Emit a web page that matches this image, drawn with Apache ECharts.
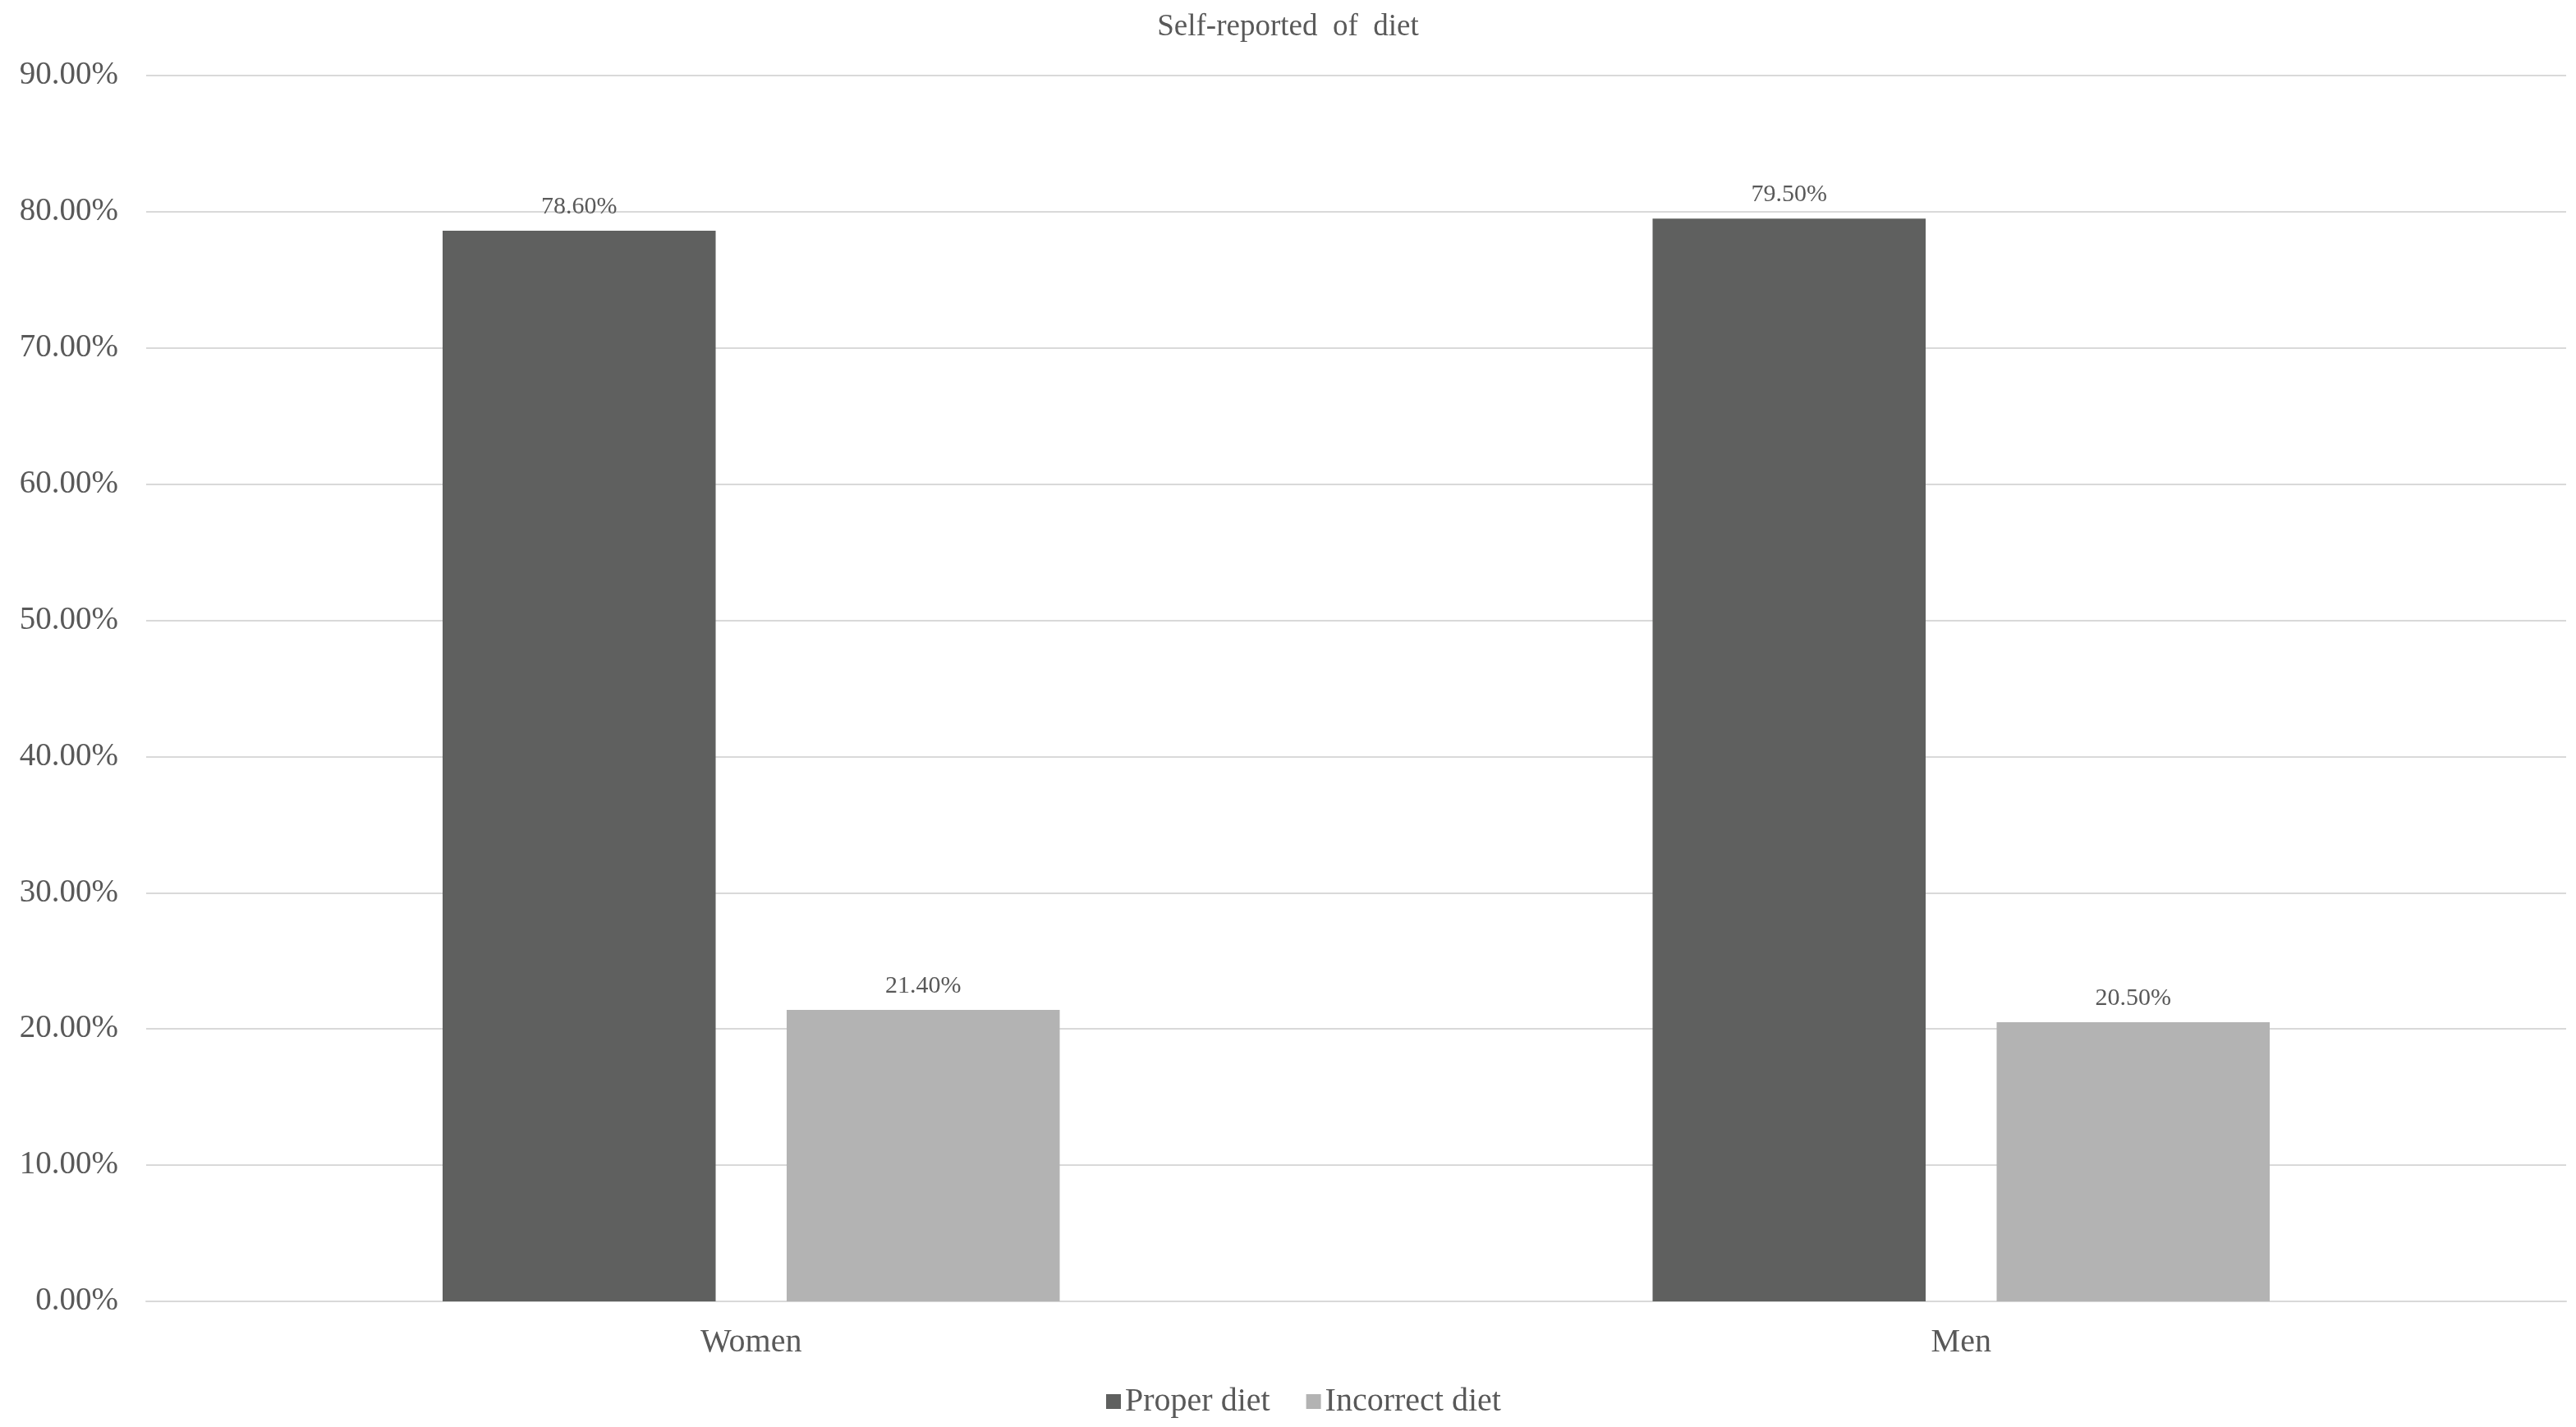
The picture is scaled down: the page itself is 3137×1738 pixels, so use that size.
<!DOCTYPE html>
<html>
<head>
<meta charset="utf-8">
<script src="https://cdn.jsdelivr.net/npm/echarts@6/dist/echarts.min.js"></script>
<style>html,body{margin:0;padding:0;background:#fff;}#chart{width:3137px;height:1738px;}</style>
</head>
<body>
<div id="chart"></div>
<script>
const categories = ['Women', 'Men'];
const seriesNames = ['Proper diet', 'Incorrect diet'];
const properDiet = [78.6, 79.5];
const incorrectDiet = [21.4, 20.5];
const yTicks = { min: 0, max: 90, interval: 10 };

const font = '"Liberation Serif", "DejaVu Serif", serif';
const textColor = '#595959';
const chart = echarts.init(document.getElementById('chart'));
const labelCfg = {
  show: true, position: 'top', distance: 14,
  fontFamily: font, fontSize: 30, color: textColor,
  formatter: p => p.value.toFixed(2) + '%'
};
chart.setOption({
  backgroundColor: '#ffffff',
  animation: false,
  title: {
    text: 'Self-reported  of  diet', left: 'center', top: 10,
    textStyle: { fontFamily: font, fontSize: 37, fontWeight: 'normal', color: textColor }
  },
  legend: {
    bottom: 6, left: 1342, itemWidth: 18, itemHeight: 18, itemGap: 44,
    icon: 'rect',
    textStyle: { fontFamily: font, fontSize: 40, color: textColor },
    data: seriesNames
  },
  grid: { left: 178, right: 12, top: 92, bottom: 153, containLabel: false },
  xAxis: {
    type: 'category', data: categories,
    axisLine: { show: true, lineStyle: { color: '#d9d9d9', width: 2 } },
    axisTick: { show: false },
    axisLabel: { fontFamily: font, fontSize: 40, color: textColor, margin: 30 }
  },
  yAxis: {
    type: 'value', min: yTicks.min, max: yTicks.max, interval: yTicks.interval,
    axisLine: { show: false }, axisTick: { show: false },
    splitLine: { lineStyle: { color: '#d9d9d9', width: 2 } },
    axisLabel: { fontFamily: font, fontSize: 39, color: textColor, margin: 34,
      formatter: v => v.toFixed(2) + '%' }
  },
  series: [
    { name: seriesNames[0], type: 'bar', data: properDiet, barGap: '26%', barCategoryGap: '49%',
      itemStyle: { color: '#5f605f' }, label: labelCfg },
    { name: seriesNames[1], type: 'bar', data: incorrectDiet,
      itemStyle: { color: '#b3b3b3' }, label: labelCfg }
  ]
});
</script>
</body>
</html>
